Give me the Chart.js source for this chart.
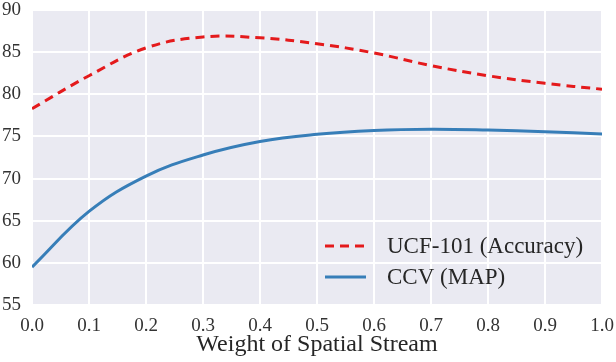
<!DOCTYPE html>
<html><head><meta charset="utf-8">
<script src="https://cdn.jsdelivr.net/npm/chart.js@4"></script>
<style>html,body{margin:0;padding:0;background:#fff}#wrap{width:616px;height:362px}</style>
</head><body><div id="wrap"><canvas id="c" width="616" height="362"></canvas></div>
<script>
const weights = [0.0, 0.1, 0.2, 0.3, 0.4, 0.5, 0.6, 0.7, 0.8, 0.9, 1.0];
const ucfAccuracy = [78.3, 82.2, 85.5, 86.8, 86.7, 86.0, 84.9, 83.4, 82.2, 81.3, 80.6];
const ccvMap = [59.5, 66.1, 70.3, 72.8, 74.4, 75.25, 75.7, 75.85, 75.75, 75.55, 75.3];
const seriesNames = ['UCF-101 (Accuracy)', 'CCV (MAP)'];
const yMin = 55, yMax = 90, yStep = 5;
const xMin = 0, xMax = 1, xStep = 0.1;
const xTitle = 'Weight of Spatial Stream';

const FONT = '"Liberation Serif", "Times New Roman", serif';
const toPts = vals => weights.map((w, i) => ({x: w, y: vals[i]}));

const bgPlugin = {
  id: 'bg',
  beforeDraw(chart) {
    const {ctx, chartArea: a} = chart;
    ctx.save(); ctx.fillStyle = '#EAEAF2';
    ctx.fillRect(a.left, a.top, a.right - a.left, a.bottom - a.top);
    ctx.restore();
  }
};
const legendPlugin = {
  id: 'innerLegend',
  afterDatasetsDraw(chart) {
    const {ctx, chartArea: a} = chart;
    const x0 = a.right - 277, x1 = a.right - 236, tx = a.right - 215;
    const rows = [a.bottom - 59, a.bottom - 28];
    chart.data.datasets.forEach((ds, i) => {
      const y = rows[i];
      ctx.save();
      ctx.strokeStyle = ds.borderColor; ctx.lineWidth = ds.borderWidth;
      ctx.setLineDash(ds.borderDash || []);
      ctx.beginPath(); ctx.moveTo(x0, y); ctx.lineTo(x1, y); ctx.stroke();
      ctx.setLineDash([]);
      ctx.fillStyle = '#262626'; ctx.font = '23px ' + FONT;
      ctx.textBaseline = 'alphabetic'; ctx.textAlign = 'left';
      ctx.fillText(ds.label, tx, y + 7);
      ctx.restore();
    });
  }
};
const noPad = s => { s.paddingLeft = 0; s.paddingRight = 0; s.paddingTop = 0; s.paddingBottom = 0; };

new Chart(document.getElementById('c'), {
  type: 'line',
  data: {
    datasets: [
      {label: seriesNames[0], data: toPts(ucfAccuracy), borderColor: '#E41A1C', borderWidth: 3,
       borderDash: [9, 6], pointRadius: 0, tension: 0.4, fill: false},
      {label: seriesNames[1], data: toPts(ccvMap), borderColor: '#377EB8', borderWidth: 3,
       pointRadius: 0, tension: 0.4, fill: false}
    ]
  },
  options: {
    responsive: false, animation: false, devicePixelRatio: 1,
    layout: {padding: {top: 10, right: 14, left: 0, bottom: 0}},
    plugins: {legend: {display: false}, tooltip: {enabled: false}},
    scales: {
      x: {
        type: 'linear', min: xMin, max: xMax,
        afterFit: s => { s.height = 57; noPad(s); },
        border: {display: false},
        grid: {color: '#FFFFFF', lineWidth: 2, drawTicks: false},
        ticks: {stepSize: xStep, padding: 10, color: '#333', font: {family: FONT, size: 19},
                callback: v => Number(v).toFixed(1)},
        title: {display: true, text: xTitle, color: '#262626', font: {family: FONT, size: 24},
                padding: {top: 0, bottom: 3}}
      },
      y: {
        min: yMin, max: yMax,
        afterFit: s => { s.width = 32; noPad(s); },
        border: {display: false},
        grid: {color: '#FFFFFF', lineWidth: 2, drawTicks: false},
        ticks: {stepSize: yStep, padding: 11, color: '#333', font: {family: FONT, size: 19}}
      }
    }
  },
  plugins: [bgPlugin, legendPlugin]
});
</script>
</body></html>
